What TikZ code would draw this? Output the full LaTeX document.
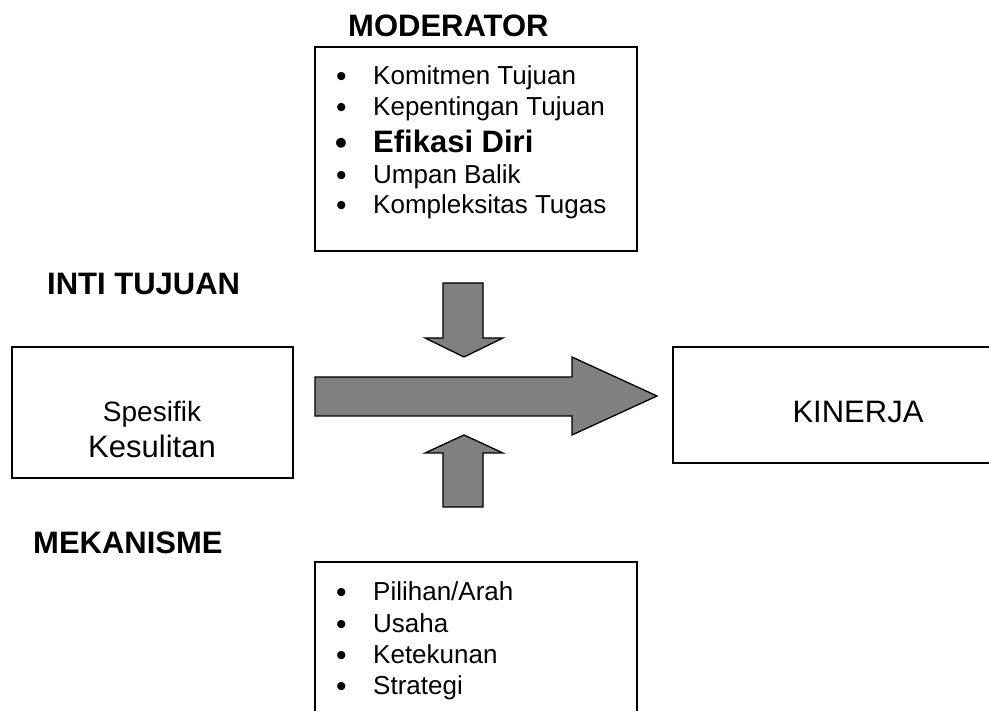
\documentclass[tikz,border=0pt]{standalone}
\usepackage{fontspec}
\setmainfont{Liberation Sans}
\newcommand{\itemsize}{\fontsize{26}{30}\selectfont}
\newcommand{\dotsize}{\fontsize{30}{34}\selectfont}
\newcommand{\headsize}{\fontsize{31}{37}\selectfont\bfseries}
\tikzset{
  frame/.style={draw, line width=1.5pt},
  blockarrow/.style={draw, fill=gray, line width=1.3pt, line join=miter},
  lbl/.style={anchor=base west, inner sep=0pt},
  mid/.style={anchor=base, inner sep=0pt},
}

\begin{document}
\begin{tikzpicture}[x=1pt, y=-1pt]
  \useasboundingbox (0,0) rectangle (989,711);

  % headings
  \node[lbl] (moderator) at (348,37) {\headsize MODERATOR};
  \node[lbl] (inti) at (47,295) {\headsize INTI TUJUAN};
  \node[lbl] (mekanisme) at (33,553) {\headsize MEKANISME};

  % moderator box
  \draw[frame] (315,47) rectangle (637,251);
  \node[lbl] (b1) at (336,87)  {\dotsize\textbullet};
  \node[lbl] (m1) at (373,85)  {\itemsize Komitmen Tujuan};
  \node[lbl] (b2) at (336,118) {\dotsize\textbullet};
  \node[lbl] (m2) at (373,116) {\itemsize Kepentingan Tujuan};
  \node[lbl] (b3) at (335,155) {\fontsize{34}{38}\selectfont\bfseries\textbullet};
  \node[lbl] (m3) at (373,153) {\headsize Efikasi Diri};
  \node[lbl] (b4) at (336,186) {\dotsize\textbullet};
  \node[lbl] (m4) at (373,184) {\itemsize Umpan Balik};
  \node[lbl] (b5) at (336,216) {\dotsize\textbullet};
  \node[lbl] (m5) at (373,214) {\itemsize Kompleksitas Tugas};

  % inti tujuan box
  \draw[frame] (12,347) rectangle (293,478);
  \node[mid] (spesifik) at (152,422) {\fontsize{28}{33}\selectfont Spesifik};
  \node[mid] (kesulitan) at (152,458) {\fontsize{31}{37}\selectfont Kesulitan};

  % kinerja box (runs off the right edge)
  \draw[frame] (990,347) -- (673,347) -- (673,463) -- (990,463);
  \node[mid] (kinerja) at (858,423) {\fontsize{31}{37}\selectfont KINERJA};

  % block arrows
  \draw[blockarrow] (443,283) -- (483,283) -- (483,338) -- (503,338) -- (464,357)
    -- (425,338) -- (443,338) -- cycle; % down
  \draw[blockarrow] (315,377) -- (572,377) -- (572,357) -- (657,396) -- (572,435)
    -- (572,416) -- (315,416) -- cycle; % main
  \draw[blockarrow] (443,507) -- (483,507) -- (483,453) -- (503,453) -- (464,435)
    -- (425,453) -- (443,453) -- cycle; % up

  % mekanisme box (runs off the bottom edge)
  \draw[frame] (315,712) -- (315,562) -- (637,562) -- (637,712);
  \node[lbl] (c1) at (336,602) {\dotsize\textbullet};
  \node[lbl] (k1) at (373,600) {\itemsize Pilihan/Arah};
  \node[lbl] (c2) at (336,634) {\dotsize\textbullet};
  \node[lbl] (k2) at (373,632) {\itemsize Usaha};
  \node[lbl] (c3) at (336,665) {\dotsize\textbullet};
  \node[lbl] (k3) at (373,663) {\itemsize Ketekunan};
  \node[lbl] (c4) at (336,696) {\dotsize\textbullet};
  \node[lbl] (k4) at (373,694) {\itemsize Strategi};

\end{tikzpicture}
\end{document}
